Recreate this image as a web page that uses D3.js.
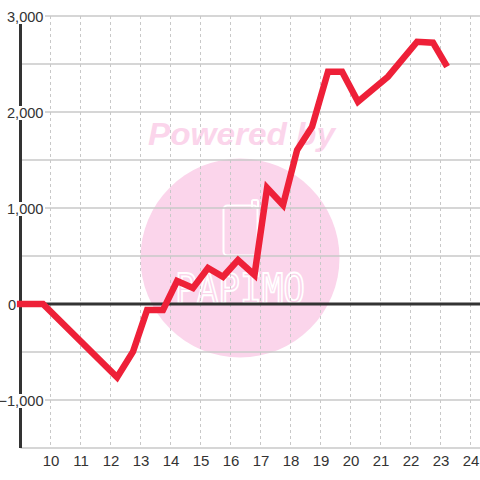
<!DOCTYPE html>
<html><head><meta charset="utf-8">
<script src="https://cdn.jsdelivr.net/npm/d3@7"></script>
<style>html,body{margin:0;padding:0;background:#fff;}svg{display:block;}</style>
</head><body>
<script>
const xValues = [8.88, 9.75, 12.22, 12.75, 13.22, 13.75, 14.22, 14.75, 15.25, 15.75, 16.25, 16.8, 17.22, 17.75, 18.22, 18.72, 19.25, 19.72, 20.25, 21.25, 22.22, 22.75, 23.22];
const yValues = [0, 0, -763, -497, -62, -62, 240, 167, 375, 284, 458, 302, 1208, 1031, 1604, 1847, 2420, 2420, 2107, 2368, 2732, 2722, 2472];
const xTicks = [10, 11, 12, 13, 14, 15, 16, 17, 18, 19, 20, 21, 22, 23, 24];
const yGrid = [-1500, -1000, -500, 0, 500, 1000, 1500, 2000, 2500, 3000];
const yLabels = [-1000, 0, 1000, 2000, 3000];

const W = 480, H = 480;
const svg = d3.select("body").append("svg").attr("width", W).attr("height", H);
const x = d3.scaleLinear().domain([9, 24.3167]).range([20.5, 480]);
const y = d3.scaleLinear().domain([-1500, 3000]).range([448, 16]);
const fmt = d3.format(",");

// watermark
const wm = svg.append("g");
wm.append("circle").attr("cx", 240).attr("cy", 258).attr("r", 99.5).attr("fill", "#fbd5eb");
wm.append("text").attr("x", 148).attr("y", 145).attr("font-family", "Liberation Sans, Arial, sans-serif")
  .attr("font-size", 32).attr("font-weight", "bold").attr("font-style", "italic")
  .attr("textLength", 187).attr("lengthAdjust", "spacingAndGlyphs")
  .attr("fill", "#fbd5eb").text("Powered by");
wm.append("rect").attr("x", 223.5).attr("y", 205.5).attr("width", 34).attr("height", 50).attr("rx", 4)
  .attr("fill", "none").attr("stroke", "#fff").attr("stroke-width", 2);
wm.append("rect").attr("x", 252).attr("y", 200).attr("width", 6).attr("height", 8).attr("rx", 1.5)
  .attr("fill", "none").attr("stroke", "#fff").attr("stroke-width", 2);
wm.append("text").attr("x", 175).attr("y", 303).attr("font-family", "DejaVu Sans Mono, monospace")
  .attr("font-size", 40).attr("textLength", 130).attr("lengthAdjust", "spacingAndGlyphs")
  .attr("fill", "none").attr("stroke", "#fff").attr("stroke-width", 1.8).text("PAPIMO");

// grid
const grid = svg.append("g");
grid.selectAll("line.v").data(xTicks).join("line").attr("class", "v")
  .attr("x1", d => Math.round(x(d)) + 0.5).attr("x2", d => Math.round(x(d)) + 0.5)
  .attr("y1", y(3000)).attr("y2", y(-1500))
  .attr("stroke", "#c8c8c8").attr("stroke-width", 1).attr("stroke-dasharray", "3,3");
grid.selectAll("line.h").data(yGrid.filter(d => d !== 0)).join("line").attr("class", "h")
  .attr("x1", 20.5).attr("x2", 480)
  .attr("y1", d => y(d)).attr("y2", d => y(d))
  .attr("stroke", "#c8c8c8").attr("stroke-width", 1.3);

// y axis line
svg.append("line").attr("x1", 20.5).attr("x2", 20.5).attr("y1", y(3000)).attr("y2", y(-1500))
  .attr("stroke", "#333").attr("stroke-width", 3);

// y labels with white background
const yl = svg.append("g").selectAll("g").data(yLabels).join("g");
yl.append("rect")
  .attr("x", d => d === 0 ? 6 : 1).attr("width", d => d === 0 ? 11 : 44)
  .attr("y", d => y(d) - 6).attr("height", 14).attr("fill", "#fff");
yl.append("text")
  .attr("x", d => d === 0 ? 16 : 43.5).attr("y", d => y(d) + 5.5)
  .attr("text-anchor", "end").attr("font-family", "Liberation Sans, Arial, sans-serif")
  .attr("font-size", 14.6).attr("fill", "#333").text(d => fmt(d));

// x labels
svg.append("g").selectAll("text").data(xTicks).join("text")
  .attr("x", d => x(d) + 0.5).attr("y", 466)
  .attr("text-anchor", "middle").attr("font-family", "Liberation Sans, Arial, sans-serif")
  .attr("font-size", 15).attr("fill", "#333").text(d => d);

// zero line
svg.append("line").attr("x1", 20.5).attr("x2", 480).attr("y1", y(0)).attr("y2", y(0))
  .attr("stroke", "#333").attr("stroke-width", 3);

// series line
const line = d3.line().x(d => x(d[0])).y(d => y(d[1]));
svg.append("path").datum(xValues.map((v, i) => [v, yValues[i]]))
  .attr("d", line).attr("fill", "none").attr("stroke", "#ee2038")
  .attr("stroke-width", 6.5).attr("stroke-linejoin", "miter").attr("stroke-linecap", "butt");
</script>
</body></html>
